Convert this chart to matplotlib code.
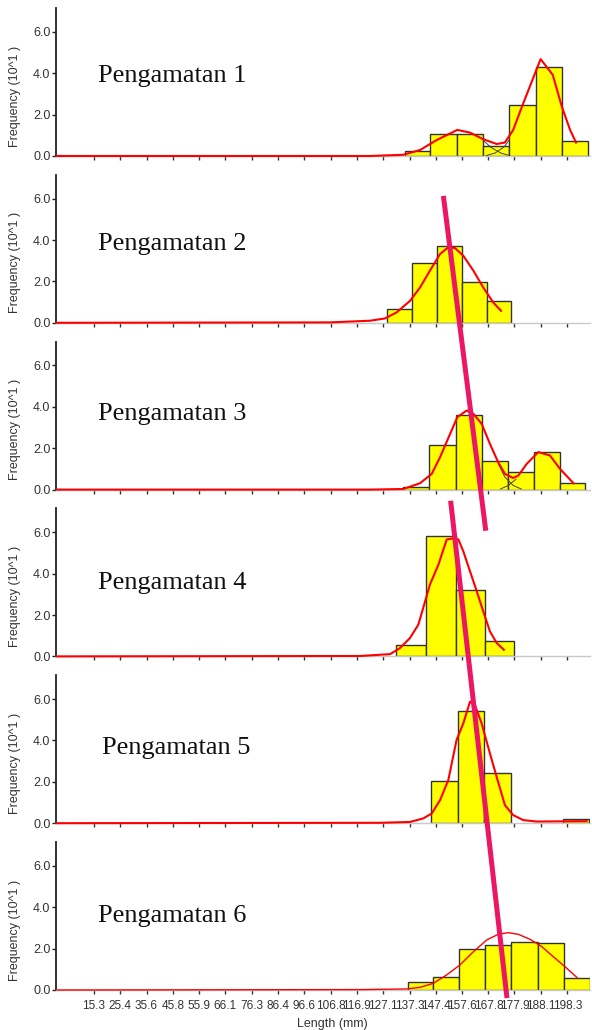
import matplotlib
matplotlib.use("Agg")
import matplotlib.pyplot as plt
import numpy as np
from matplotlib.lines import Line2D

# x tick labels (class marks, mm)
ticks = [15.3, 25.4, 35.6, 45.8, 55.9, 66.1, 76.3, 86.4, 96.6, 106.8, 116.9,
         127.1, 137.3, 147.4, 157.6, 167.8, 177.9, 188.1, 198.3]

# histogram bins (edges, mm) and frequencies (x10) per observation
edges1 = [135.6, 145.2, 155.7, 165.7, 175.8, 186.2, 196.3, 206.3]
freq1 = [0.24, 1.05, 1.05, 0.50, 2.46, 4.30, 0.74]
edges2 = [128.5, 138.1, 147.8, 157.7, 167.1, 176.5]
freq2 = [0.66, 2.87, 3.69, 1.95, 1.05]
edges3 = [134.9, 144.9, 155.1, 165.2, 175.2, 185.3, 195.4, 205.2]
freq3 = [0.11, 2.16, 3.58, 1.40, 0.84, 1.84, 0.32]
edges4 = [132.0, 143.5, 155.1, 166.6, 177.7]
freq4 = [0.56, 5.84, 3.23, 0.73]
edges5 = [145.6, 155.9, 166.2, 176.4, 186.5, 196.6, 206.6]
freq5 = [2.05, 5.44, 2.44, 0.0, 0.0, 0.21]
edges6 = [136.6, 146.3, 156.3, 166.6, 176.5, 186.9, 197.0, 207.0]
freq6 = [0.40, 0.61, 1.97, 2.18, 2.31, 2.29, 0.60]

# fitted curves
cx1 = [1, 122.0, 134.9, 141.4, 147.8, 155.8, 160.7, 165.8, 171.0, 174.2, 177.4,
       181.3, 184.6, 188.0, 192.7, 196.2, 199.4, 201.7]
cy1 = [0, 0, 0.06, 0.29, 0.77, 1.26, 1.13, 0.81, 0.58, 0.65, 1.26,
       2.55, 3.60, 4.68, 3.92, 2.39, 1.26, 0.65]
cx2 = [1, 106.6, 114.3, 122.0, 127.8, 132.3, 137.5, 141.4, 145.2, 149.1, 152.3,
       154.9, 158.1, 162.0, 165.8, 169.7, 172.7]
cy2 = [0, 0.02, 0.06, 0.10, 0.21, 0.50, 1.06, 1.71, 2.52, 3.32, 3.65,
       3.61, 3.24, 2.52, 1.71, 0.98, 0.58]
cx3 = [1, 122.0, 134.9, 141.4, 145.9, 149.1, 153.0, 155.8, 159.4, 162.0, 165.2,
       168.4, 171.6, 174.2, 177.4, 179.4, 182.6, 187.1, 191.6, 195.5, 200.7]
cy3 = [0, 0, 0.03, 0.31, 0.76, 1.56, 2.69, 3.50, 3.82, 3.66, 3.18,
       2.21, 1.32, 0.76, 0.56, 0.68, 1.24, 1.81, 1.65, 1.00, 0.31]
cx4 = [1, 118.2, 129.8, 133.6, 137.5, 140.7, 142.6, 145.2, 148.5, 151.7, 153.6,
       156.2, 158.1, 160.7, 163.3, 165.8, 168.4, 171.0, 173.8]
cy4 = [0, 0.02, 0.11, 0.40, 0.89, 1.53, 2.34, 3.47, 4.44, 5.65, 5.69,
       5.65, 5.08, 4.11, 3.15, 2.18, 1.21, 0.65, 0.32]
cx5 = [1, 125.9, 137.5, 142.6, 145.9, 149.1, 152.3, 155.5, 158.1, 160.7, 162.6,
       165.2, 168.4, 171.0, 174.2, 177.4, 181.3, 186.5, 205.8]
cy5 = [0, 0.02, 0.06, 0.23, 0.47, 1.11, 2.08, 4.02, 4.82, 5.87, 5.71,
       4.82, 3.37, 2.24, 0.87, 0.39, 0.15, 0.08, 0.10]
cx6 = [1, 118.2, 136.2, 141.4, 146.5, 151.7, 156.8, 162.0, 167.2, 171.6, 175.5,
       179.4, 183.9, 188.4, 192.9, 197.4, 202.0]
cy6 = [0, 0.02, 0.05, 0.13, 0.32, 0.73, 1.21, 1.85, 2.42, 2.69, 2.77,
       2.69, 2.45, 2.10, 1.61, 1.13, 0.61]

# single component tails visible at the dips (panels 1 and 3)
comp1 = [([165.8, 169.0, 172.5, 176.0], [0.75, 0.40, 0.15, 0.02]),
         ([167.0, 170.5, 174.0, 176.0], [0.02, 0.15, 0.45, 0.80])]
comp3 = [([171.6, 174.2, 177.4, 180.5], [1.25, 0.60, 0.20, 0.03]),
         ([172.5, 175.5, 178.5], [0.03, 0.20, 0.50])]

# modal progression lines: (panel, length, freq) start -> end
shift_a = [(1, 150.4, 6.13), (3, 166.8, 6.07)]
shift_b = [(3, 153.2, 7.52), (5, 175.0, -0.39)]

titles = ["Pengamatan 1", "Pengamatan 2", "Pengamatan 3",
          "Pengamatan 4", "Pengamatan 5", "Pengamatan 6"]
title_y = [3.59, 3.53, 3.38, 3.28, 3.33, 3.28]
title_x = [16.8, 16.8, 16.8, 16.8, 18.2, 16.8]

panels = [(edges1, freq1, cx1, cy1), (edges2, freq2, cx2, cy2),
          (edges3, freq3, cx3, cy3), (edges4, freq4, cx4, cy4),
          (edges5, freq5, cx5, cy5), (edges6, freq6, cx6, cy6)]

plt.rcParams['font.family'] = ['Liberation Sans', 'DejaVu Sans']
W, H = 592, 1030
fig = plt.figure(figsize=(W / 100, H / 100), dpi=100)

axs = []
for i, (edges, freq, cx, cy) in enumerate(panels):
    base = 156 + 166.8 * i
    ax = fig.add_axes([56 / W, 1 - base / H, 534 / W, 148 / H])
    axs.append(ax)
    e = np.array(edges)
    f = np.array(freq)
    keep = f > 0
    ax.bar(e[:-1][keep], f[keep], width=np.diff(e)[keep], align='edge',
           color='#ffff00', edgecolor='#333333', linewidth=1.0, zorder=2)
    lw = 1.0 if i == 5 else 1.5
    ax.plot(cx, cy, color='#ff0000', lw=lw, zorder=4, clip_on=False)
    if i == 0:
        for x, y in comp1:
            ax.plot(x, y, color='#444444', lw=0.7, zorder=3)
    if i == 2:
        for x, y in comp3:
            ax.plot(x, y, color='#444444', lw=0.7, zorder=3)
    ax.text(title_x[i], title_y[i], titles[i], fontsize=19,
            family=['Liberation Serif', 'DejaVu Serif'], color='#111111')

    ax.set_xlim(0.6, 207.1)
    ax.set_ylim(0, 7.15)
    ax.set_xticks(ticks)
    ax.set_yticks([0, 2, 4, 6])
    ax.set_yticklabels(["0.0", "2.0", "4.0", "6.0"])
    ax.spines['top'].set_visible(False)
    ax.spines['right'].set_visible(False)
    ax.spines['left'].set_color('#222222')
    ax.spines['left'].set_linewidth(1.3)
    ax.spines['bottom'].set_color('#c8c8c8')
    ax.spines['bottom'].set_linewidth(1.0)
    ax.tick_params(axis='y', direction='out', length=3, width=1.0,
                   color='#222222', labelsize=9, labelcolor='#333333', pad=1)
    ax.tick_params(axis='x', direction='out', length=3, width=1.0,
                   color='#333333', labelsize=8.5, labelcolor='#333333', pad=4)
    ax.set_ylabel("Frequency (10^1 )", fontsize=9, color='#333333')
    ax.yaxis.set_label_coords(-0.066, 0.405)
    if i < 5:
        ax.set_xticklabels([])
    else:
        ax.set_xticklabels([f"{t:.1f}" for t in ticks])
        ax.set_xlabel("Length (mm)", fontsize=9, color='#333333')
        ax.xaxis.set_label_coords(0.517, -0.19)

# modal progression lines across panels, drawn on the figure
to_fig = fig.transFigure.inverted()
for seg in (shift_a, shift_b):
    pts = [to_fig.transform(axs[p].transData.transform((x, y))) for p, x, y in seg]
    fig.add_artist(Line2D([pts[0][0], pts[1][0]], [pts[0][1], pts[1][1]],
                          transform=fig.transFigure, color='#ec1763',
                          lw=3.6, solid_capstyle='butt', zorder=10))

fig.savefig("out.png", dpi=100)
